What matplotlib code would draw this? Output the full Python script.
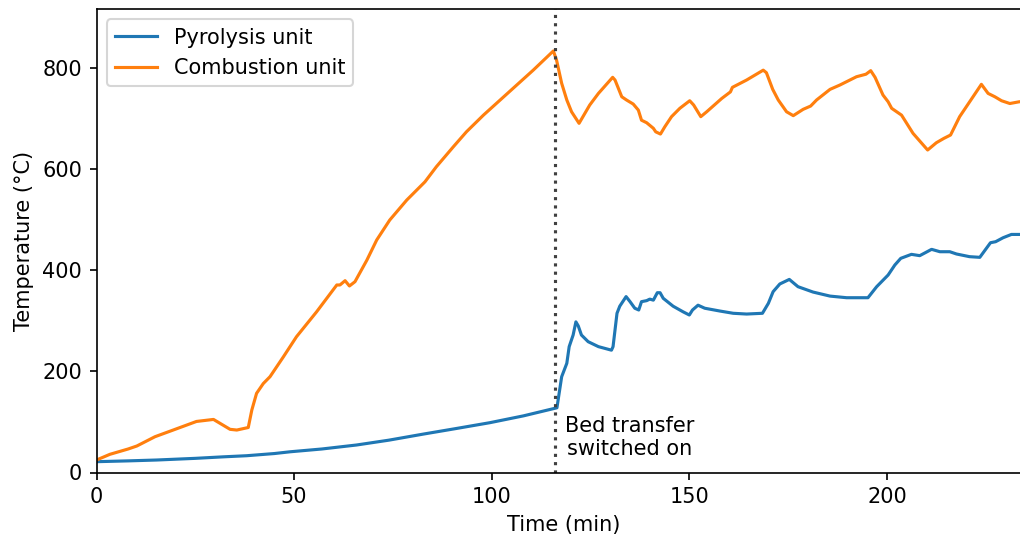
import matplotlib
matplotlib.use("Agg")
import matplotlib.pyplot as plt

# Pyrolysis unit (blue)
pyro_time = [0, 8, 15.2, 25, 32.1, 38, 45, 49, 57, 65.8, 74, 82.7, 91, 99.5, 108, 116.5,
             117.7, 119, 119.6, 120.6, 121.3, 121.9, 122.7, 124.4, 127, 130.3, 130.7,
             131.7, 132.4, 134, 135, 136.2, 137.2, 137.9, 139.2, 140, 140.9, 141.9, 142.6,
             143.4, 145.9, 148.4, 150, 150.8, 152.2, 153.9, 157.7, 161.1, 164.5, 168.5,
             170, 171.2, 172.9, 175.3, 177.5, 181.3, 185.6, 189.8, 195.2, 197.4, 200.3,
             202, 203.5, 206.2, 208.3, 211.3, 213.4, 215.9, 217.6, 220.9, 223.5, 226.2,
             227.5, 229.4, 231.5, 233.5, 236.2]
pyro_temp = [21.4, 23, 24.7, 28, 31, 33.2, 37.5, 41, 46.5, 54.4, 64, 76, 87, 98.5, 112, 128,
             189.5, 216, 249, 272, 298, 290, 272, 258.8, 249, 242, 249,
             315, 329, 348, 338, 325, 321.5, 338, 340, 343, 341, 355.7, 355.7,
             344.6, 329, 318, 311.6, 321.5, 331, 325, 319.5, 315, 313.5, 315,
             334.7, 357.7, 373, 382, 367.6, 357, 349, 345.8, 345.8, 367.6, 390.7,
             410.5, 423.7, 431.6, 429, 441.5, 436.8, 436.8, 432.3, 427, 425.7, 454.6,
             456.6, 464.5, 471, 471, 471]

# Combustion unit (orange)
comb_time = [0, 3.4, 8, 10.2, 14.8, 19.4, 25.3, 29.6, 33.8, 35.5, 38.4, 39.3, 40.5, 42.2,
             43.9, 47.3, 50.6, 55.7, 60.8, 61.6, 62.9, 64, 65.4, 68.4, 70.9, 74.2, 78.5,
             83.1, 86, 90.3, 93.6, 97.9, 105.4, 110.5, 115.6, 116.4, 117.7, 119, 120.2,
             122.1, 124.8, 127, 130.6, 131.2, 132.9, 134.1, 135.8, 137.1, 137.9, 139.2,
             140.9, 141.5, 142.7, 143.8, 145.5, 147.6, 150.1, 151.1, 152.9, 154.4, 158.2,
             160.4, 160.9, 164.5, 168.7, 169.5, 171.1, 172.5, 174.6, 176.3, 178.8, 180.7,
             182.2, 185.6, 188.1, 192.3, 194.7, 195.9, 197, 199, 200.3, 201.2, 203.7,
             206.6, 210.3, 212.5, 214.4, 216.1, 218.4, 223.9, 225.6, 227.3, 229, 231.1,
             233.5, 236.2]
comb_temp = [24.7, 36, 46.5, 52.4, 70.8, 84, 101, 105, 85.4, 84, 89, 123.6, 156.6, 176,
             189.5, 229, 268.6, 318, 371, 371, 379.5, 369, 377.5, 420, 460, 499.5, 539,
             575, 605, 644.5, 674, 707, 760, 796, 834, 816, 770, 737, 713.7,
             690.8, 727, 750, 781.8, 776.5, 743.4, 737, 729, 717, 697, 692,
             681, 674, 669.6, 684, 704, 720.5, 735.5, 727, 704, 713.7, 740,
             753, 762, 776.5, 796, 791, 758, 737, 713.7, 706, 718.5, 725,
             737, 758, 766.6, 783, 788, 795, 781.8, 746.8, 733.5, 720.5, 707,
             671, 638, 652.4, 661, 667.7, 704, 768, 750, 743.4, 735.5, 730,
             733.5, 734]

transfer_time = 116.0
labels = ["Pyrolysis unit", "Combustion unit"]
annotation = "Bed transfer\nswitched on"

DPI = 150
fig = plt.figure(figsize=(1020 / DPI, 538 / DPI), dpi=DPI)
# axes extends slightly beyond the right edge of the figure (clipped, as in the reference)
ax = fig.add_axes([96.5 / 1020, 65.5 / 538, (1030 - 96.5) / 1020, (472.5 - 9) / 538])

ax.plot(pyro_time, pyro_temp, color="tab:blue", lw=1.5, label=labels[0])
ax.plot(comb_time, comb_temp, color="tab:orange", lw=1.5, label=labels[1])
ax.axvline(transfer_time, color="0.25", ls=":", lw=1.5)
ax.text(135, 26, annotation, ha="center", va="bottom", fontsize=10)

ax.set_xlim(0, 236.2)
ax.set_ylim(0, 917)
ax.set_xticks([0, 50, 100, 150, 200])
ax.set_yticks([0, 200, 400, 600, 800])
ax.set_xlabel("Time (min)")
ax.set_ylabel("Temperature (°C)")
ax.legend(loc="upper left")

fig.savefig("out.png", dpi=DPI)
